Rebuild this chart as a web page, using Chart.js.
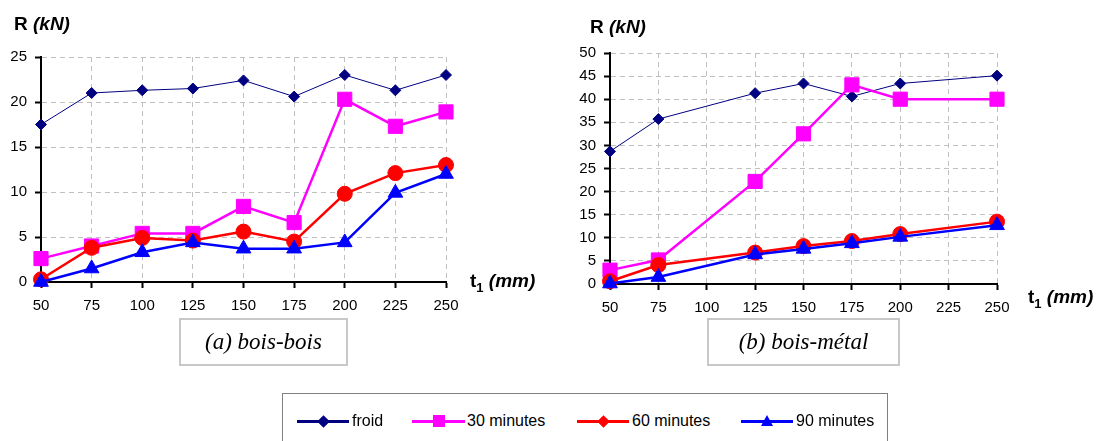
<!DOCTYPE html>
<html>
<head>
<meta charset="utf-8">
<script src="https://cdn.jsdelivr.net/npm/chart.js@4.4.0/dist/chart.umd.min.js"></script>
<style>
  html,body{margin:0;padding:0;background:#fff;}
  body{width:1102px;height:441px;overflow:hidden;position:relative;font-family:"Liberation Sans",Arial,sans-serif;color:#000;}
  canvas{position:absolute;}
  .t{position:absolute;font-weight:bold;font-size:19px;line-height:19px;white-space:nowrap;}
  .t i{font-style:italic;}
  .t .sub{font-size:13px;position:relative;top:5px;}
  .cap{position:absolute;box-sizing:border-box;border:2px solid #c8c8c8;font-family:"Liberation Serif","Times New Roman",serif;font-style:italic;font-size:23px;display:flex;align-items:center;justify-content:center;}
  #legend{position:absolute;left:282px;top:393px;width:606px;height:60px;border:1px solid #808080;box-sizing:border-box;}
  .lg-line{position:absolute;height:3px;}
  .lg-txt{position:absolute;font-size:16px;line-height:16px;white-space:nowrap;}
  .mk{position:absolute;}
</style>
</head>
<body>
<canvas id="chartA" width="560" height="330" style="left:0;top:0;"></canvas>
<canvas id="chartB" width="542" height="330" style="left:560px;top:0;"></canvas>

<div class="t" style="left:14px;top:14px;">R <i>(kN)</i></div>
<div class="t" style="left:590px;top:17px;">R <i>(kN)</i></div>
<div class="t" style="left:470px;top:271px;">t<span class="sub">1</span> <i>(mm)</i></div>
<div class="t" style="left:1028px;top:287px;">t<span class="sub">1</span> <i>(mm)</i></div>

<div class="cap" style="left:179px;top:318px;width:169px;height:48px;">(a) bois-bois</div>
<div class="cap" style="left:707px;top:318px;width:193px;height:48px;">(b) bois-métal</div>

<div id="legend"></div>

<script>
// ---- data ----
const categoriesA = ['50','75','100','125','150','175','200','225','250'];
const categoriesB = ['50','75','100','125','150','175','200','225','250'];
const seriesNames = ['froid','30 minutes','60 minutes','90 minutes'];

// (a) bois-bois
const froidA = [17.5, 21.0, 21.3, 21.5, 22.4, 20.6, 23.0, 21.3, 23.0];
const min30A = [2.6, 4.0, 5.4, 5.4, 8.4, 6.6, 20.3, 17.3, 18.9];
const min60A = [0.3, 3.8, 4.9, 4.6, 5.6, 4.5, 9.8, 12.1, 13.0];
const min90A = [0.0, 1.5, 3.3, 4.4, 3.7, 3.7, 4.4, 9.9, 12.0];

// (b) bois-métal (no measurement at 100 and 225)
const froidB = [28.7, 35.7, null, 41.3, 43.4, 40.6, 43.4, null, 45.1];
const min30B = [3.0, 5.2, null, 22.2, 32.5, 43.1, 40.0, null, 40.0];
const min60B = [0.6, 4.1, null, 6.8, 8.2, 9.3, 10.8, null, 13.5];
const min90B = [0.1, 1.5, null, 6.4, 7.6, 8.8, 10.2, null, 12.7];

const yMaxA = 25, yMaxB = 50, yStep = 5;

// ---- styles ----
const colors = ['#000080', '#ff00ff', '#ff0000', '#0000ff'];
const pStyles = ['rectRot', 'rect', 'circle', 'triangle'];
const pRadius = [5.5, 10, 7.5, 8.5];
const lWidths = [1, 2.5, 2.5, 2.5];
const orders = [3, 2, 1, 0];

function makeDatasets(arrs){
  return arrs.map((d, i) => ({
    label: seriesNames[i],
    data: d,
    borderColor: colors[i],
    backgroundColor: colors[i],
    pointBackgroundColor: colors[i],
    pointBorderColor: colors[i],
    pointBorderWidth: 1,
    pointStyle: pStyles[i],
    pointRadius: pRadius[i],
    pointHoverRadius: pRadius[i],
    borderWidth: lWidths[i],
    order: orders[i],
    tension: 0,
    spanGaps: true,
    clip: false
  }));
}

const tickFont = {family: 'Liberation Sans', size: 15};
function gridOpts(){
  return {color: '#c0c0c0', lineWidth: 1, tickColor: '#000', tickWidth: 2, tickLength: 6, tickBorderDash: [], drawTicks: true};
}
function borderOpts(){
  return {display: true, color: '#000', width: 2, dash: [5, 4]};
}

function makeChart(id, cats, arrs, yMax, yW, pad){
  return new Chart(document.getElementById(id), {
    type: 'line',
    data: {labels: cats, datasets: makeDatasets(arrs)},
    options: {
      responsive: false,
      animation: false,
      devicePixelRatio: 1,
      layout: {padding: pad},
      plugins: {legend: {display: false}, tooltip: {enabled: false}},
      scales: {
        x: {
          type: 'category', offset: false,
          grid: gridOpts(), border: borderOpts(),
          ticks: {color: '#000', font: tickFont, padding: 9, maxRotation: 0, autoSkip: false},
          afterFit: s => { s.height = 30; }
        },
        y: {
          min: 0, max: yMax,
          grid: gridOpts(), border: borderOpts(),
          ticks: {stepSize: yStep, color: '#000', font: tickFont, padding: 8},
          afterFit: s => { s.width = yW; }
        }
      }
    }
  });
}

makeChart('chartA', categoriesA, [froidA, min30A, min60A, min90A], yMaxA, 41, {left: 0, top: 57, right: 114, bottom: 18});
makeChart('chartB', categoriesB, [froidB, min30B, min60B, min90B], yMaxB, 50, {left: 0, top: 53, right: 105, bottom: 16});

// ---- legend (HTML, real text) ----
const legendItems = [
  {lineL: 297, lineR: 349, txt: 352, mk: 'diamond', color: colors[0]},
  {lineL: 412, lineR: 465, txt: 467, mk: 'square', color: colors[1]},
  {lineL: 577, lineR: 629, txt: 632, mk: 'diamond', color: colors[2]},
  {lineL: 741, lineR: 793, txt: 796, mk: 'triangle', color: colors[3]}
];
const lg = document.getElementById('legend');
const lgLeft = 283, lgTop = 394, cy = 421 - lgTop;
legendItems.forEach((it, i) => {
  const line = document.createElement('div');
  line.className = 'lg-line';
  line.style.left = (it.lineL - lgLeft) + 'px';
  line.style.width = (it.lineR - it.lineL) + 'px';
  line.style.top = (cy - 1.5) + 'px';
  line.style.background = it.color;
  lg.appendChild(line);
  const mk = document.createElement('div');
  mk.className = 'mk';
  const cx = (it.lineL + it.lineR) / 2 - lgLeft;
  if (it.mk === 'diamond') {
    mk.style.width = '9px'; mk.style.height = '9px';
    mk.style.left = (cx - 4.5) + 'px'; mk.style.top = (cy - 4.5) + 'px';
    mk.style.background = it.color; mk.style.transform = 'rotate(45deg)';
  } else if (it.mk === 'square') {
    mk.style.width = '12px'; mk.style.height = '12px';
    mk.style.left = (cx - 6) + 'px'; mk.style.top = (cy - 6) + 'px';
    mk.style.background = it.color;
  } else {
    mk.style.width = '0'; mk.style.height = '0';
    mk.style.borderLeft = '6.5px solid transparent';
    mk.style.borderRight = '6.5px solid transparent';
    mk.style.borderBottom = '11px solid ' + it.color;
    mk.style.left = (cx - 6.5) + 'px'; mk.style.top = (cy - 6.5) + 'px';
  }
  lg.appendChild(mk);
  const tx = document.createElement('div');
  tx.className = 'lg-txt';
  tx.textContent = seriesNames[i];
  tx.style.left = (it.txt - lgLeft) + 'px';
  tx.style.top = (cy - 8) + 'px';
  lg.appendChild(tx);
});
</script>
</body>
</html>
